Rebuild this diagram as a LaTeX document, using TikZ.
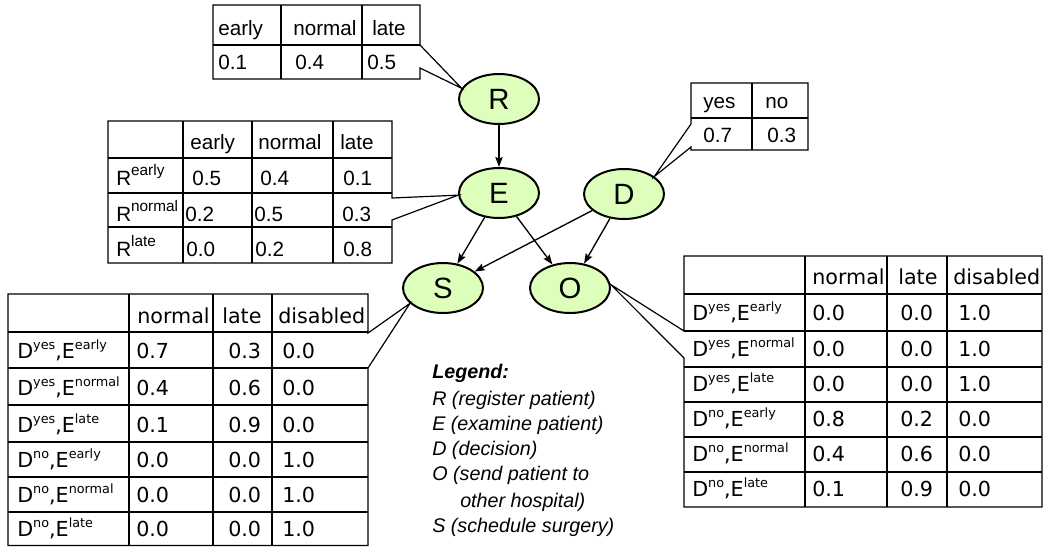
\documentclass[tikz,border=0pt]{standalone}
\usepackage{fontspec}
\setmainfont{Liberation Sans}
\newfontfamily\djv{DejaVu Sans}
\usetikzlibrary{shapes.geometric,arrows.meta}

\definecolor{nodegreen}{RGB}{221,255,187}

% superscripts for the two table fonts
\newcommand{\supA}[1]{\raisebox{7.5pt}{\fontsize{11.5}{12}\selectfont #1}}
\newcommand{\supB}[1]{\raisebox{6.2pt}{\fontsize{9.6}{11}\selectfont #1}}

\tikzset{
  grid/.style={line width=0.9pt, line join=miter},
  rule/.style={line width=2pt},
  ta/.style={inner sep=0pt, anchor=base west, font=\fontsize{15.5}{18}\selectfont},
  tb/.style={inner sep=0pt, anchor=base west, font=\djv\fontsize{15.5}{18}\selectfont},
  leg/.style={inner sep=0pt, anchor=base west, font=\fontsize{14.8}{18}\selectfont\itshape},
  bn/.style={ellipse, draw, line width=1.5pt, fill=nodegreen,
             minimum width=60pt, minimum height=37.5pt, inner sep=0pt,
             font=\fontsize{22}{24}\selectfont},
  arr/.style={-{Stealth[length=7.5pt,width=5.5pt,inset=1.2pt]}, line width=1pt},
}

\begin{document}
\begin{tikzpicture}[x=0.75pt,y=-0.75pt]
\useasboundingbox (0,0) rectangle (1048,547);

% ---------- network ----------
\node[bn] (R) at (499,99)  {R};
\node[bn] (E) at (499,193) {E};
\node[bn] (D) at (624,194) {D};
\node[bn] (S) at (443,288) {S};
\node[bn] (O) at (570,288) {O};

\draw[arr] (R) -- (E);
\draw[arr] (E) -- (S);
\draw[arr] (E) -- (O);
\draw[arr] (D) -- (S);
\draw[arr] (D) -- (O);

% ---------- table for R ----------
\draw[rule] (213,45) -- (420,45);
\draw[grid] (281,5) -- (281,79) (362,5) -- (362,79);
\draw[grid] (213,5) -- (420,5) -- (420,45) -- (R.164) -- (420,68) -- (420,79) -- (213,79) -- cycle;
\node[ta] (rt-h1) at (218,35) {early};
\node[ta] (rt-h2) at (293,35) {normal};
\node[ta] (rt-h3) at (372,35) {late};
\node[ta] (rt-v1) at (218,69) {0.1};
\node[ta] (rt-v2) at (295,69) {0.4};
\node[ta] (rt-v3) at (367,69) {0.5};

% ---------- table for E ----------
\draw[rule] (108,158) -- (392,158) (183,121) -- (183,263);
\draw[grid] (108,193) -- (392,193) (108,227) -- (392,227)
            (252,121) -- (252,263) (333,121) -- (333,263);
\draw[grid] (108,121) -- (392,121) -- (392,198) -- (E.183) -- (392,220) -- (392,263) -- (108,263) -- cycle;
\node[ta] (et-h1) at (190,149) {early};
\node[ta] (et-h2) at (258,149) {normal};
\node[ta] (et-h3) at (340,149) {late};
\foreach \lab/\y/\xa/\a/\xb/\b/\xc/\c [count=\i] in
  {{R\supA{early}}/185/192/0.5/260/0.4/343/0.1,
   {R\supA{normal}}/221/185/0.2/254/0.5/342/0.3,
   {R\supA{late}}/256/186/0.0/255/0.2/343/0.8}{
  \node[ta] (et-r\i) at (116,\y) {\lab};
  \node[ta] (et-a\i) at (\xa,\y) {\a};
  \node[ta] (et-b\i) at (\xb,\y) {\b};
  \node[ta] (et-c\i) at (\xc,\y) {\c};
}

% ---------- table for D ----------
\draw[rule] (691,118) -- (808,118);
\draw[grid] (752,83) -- (752,150);
\draw[grid] (691,124) -- (691,83) -- (808,83) -- (808,150) -- (691,150) -- (691,147) -- (D.30) -- cycle;
\node[ta] (dt-h1) at (703,108) {yes};
\node[ta] (dt-h2) at (765,108) {no};
\node[ta] (dt-v1) at (703,142) {0.7};
\node[ta] (dt-v2) at (767,142) {0.3};

% ---------- table for S ----------
\draw[rule] (8,332) -- (368,332) (129,294) -- (129,545.5);
\draw[grid] (8,368) -- (368,368) (8,405) -- (368,405) (8,442) -- (368,442)
            (8,477) -- (368,477) (8,512) -- (368,512)
            (213,294) -- (213,545.5) (272,294) -- (272,545.5);
\draw[grid] (8,294) -- (368,294) -- (368,333) -- (S.205) -- (368,368) -- (368,545.5) -- (8,545.5) -- cycle;
\node[tb] (st-h1) at (137,323) {normal};
\node[tb] (st-h2) at (222,323) {late};
\node[tb] (st-h3) at (278,323) {disabled};
\foreach \lab/\y/\a/\b/\c [count=\i] in
  {{D\supB{yes},E\supB{early}}/358/0.7/0.3/0.0,
   {D\supB{yes},E\supB{normal}}/395/0.4/0.6/0.0,
   {D\supB{yes},E\supB{late}}/432/0.1/0.9/0.0,
   {D\supB{no},E\supB{early}}/467/0.0/0.0/1.0,
   {D\supB{no},E\supB{normal}}/502/0.0/0.0/1.0,
   {D\supB{no},E\supB{late}}/536/0.0/0.0/1.0}{
  \node[tb] (st-r\i) at (17,\y) {\lab};
  \node[tb] (st-a\i) at (136,\y) {\a};
  \node[tb] (st-b\i) at (228,\y) {\b};
  \node[tb] (st-c\i) at (282,\y) {\c};
}

% ---------- table for O ----------
\draw[rule] (684,294) -- (1042,294) (805,256) -- (805,507);
\draw[grid] (684,331) -- (1042,331) (684,367) -- (1042,367) (684,402) -- (1042,402)
            (684,437) -- (1042,437) (684,472) -- (1042,472)
            (887,256) -- (887,507) (947,256) -- (947,507);
\draw[grid] (684,331) -- (684,256) -- (1042,256) -- (1042,507) -- (684,507) -- (684,358) -- (O.5) -- cycle;
\node[tb] (ot-h1) at (812,284) {normal};
\node[tb] (ot-h2) at (898,284) {late};
\node[tb] (ot-h3) at (953,284) {disabled};
\foreach \lab/\y/\a/\b/\c [count=\i] in
  {{D\supB{yes},E\supB{early}}/320/0.0/0.0/1.0,
   {D\supB{yes},E\supB{normal}}/356/0.0/0.0/1.0,
   {D\supB{yes},E\supB{late}}/391/0.0/0.0/1.0,
   {D\supB{no},E\supB{early}}/426/0.8/0.2/0.0,
   {D\supB{no},E\supB{normal}}/461/0.4/0.6/0.0,
   {D\supB{no},E\supB{late}}/496/0.1/0.9/0.0}{
  \node[tb] (ot-r\i) at (692,\y) {\lab};
  \node[tb] (ot-a\i) at (812,\y) {\a};
  \node[tb] (ot-b\i) at (900,\y) {\b};
  \node[tb] (ot-c\i) at (958,\y) {\c};
}

% ---------- legend ----------
\node[leg, font=\fontsize{14.8}{18}\selectfont\bfseries\itshape] (leg0) at (432,378) {Legend:};
\node[leg] (leg1) at (432,405) {R (register patient)};
\node[leg] (leg2) at (432,430) {E (examine patient)};
\node[leg] (leg3) at (432,455) {D (decision)};
\node[leg] (leg4) at (432,480) {O (send patient to};
\node[leg] (leg5) at (460,507) {other hospital)};
\node[leg] (leg6) at (432,532) {S (schedule surgery)};
\end{tikzpicture}
\end{document}
